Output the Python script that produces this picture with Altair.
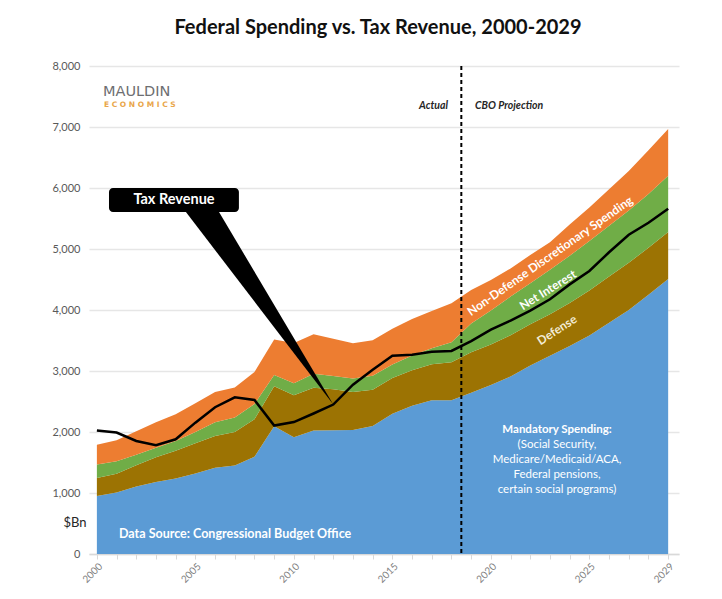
import altair as alt
import pandas as pd

# ---------------- data (US$ bn, CBO) ----------------
years = list(range(2000, 2030))
mandatory = [951, 1008, 1106, 1182, 1238, 1320, 1412, 1450, 1595, 2093,
             1913, 2026, 2030, 2032, 2097, 2300, 2429, 2519, 2522, 2644,
             2770, 2910, 3090, 3250, 3410, 3580, 3790, 4000, 4250, 4508]
defense = [295, 306, 349, 405, 454, 494, 521, 551, 612, 656,
           689, 699, 670, 625, 596, 584, 584, 590, 623, 665,
           665, 675, 675, 680, 705, 740, 760, 775, 770, 770]
net_interest = [223, 206, 171, 153, 160, 184, 227, 237, 253, 187,
                196, 230, 220, 221, 229, 223, 240, 263, 325, 470,
                555, 635, 675, 730, 775, 810, 830, 855, 880, 922]
nondefense = [320, 343, 385, 419, 441, 474, 495, 491, 522, 582,
              659, 647, 607, 576, 583, 585, 600, 610, 639, 550,
              500, 460, 460, 450, 510, 550, 600, 650, 720, 767]
revenue = [2025, 1991, 1853, 1782, 1880, 2153, 2406, 2568, 2524, 2105,
           2163, 2303, 2450, 2775, 3021, 3250, 3268, 3316, 3329, 3490,
           3678, 3827, 3989, 4176, 4420, 4640, 4946, 5233, 5430, 5660]

series_names = ["Mandatory Spending", "Defense", "Net Interest",
                "Non-Defense Discretionary Spending"]
series_colors = ["#5b9bd5", "#9c7303", "#70ad47", "#ed7d31"]
y_ticks = list(range(0, 8001, 1000))
x_label_years = [2000, 2005, 2010, 2015, 2020, 2025, 2029]
projection_start = 2018.5
callout_year = 2012

# ---------------- tables ----------------
rows = []
for i, yr in enumerate(years):
    base = 0
    for name, vals in zip(series_names, [mandatory, defense, net_interest, nondefense]):
        rows.append({"year": yr, "series": name, "lo": base, "hi": base + vals[i]})
        base += vals[i]
df = pd.DataFrame(rows)
rev = pd.DataFrame({"year": years, "revenue": revenue})

W, H = 590, 488
FONT = "Lato"
xs = alt.Scale(domain=[1999.6, 2029.55], nice=False, zero=False)
ys = alt.Scale(domain=[0, 8000], nice=False, zero=True)

x_label_expr = "indexof(" + str(x_label_years) + ", datum.value) >= 0 ? '' + datum.value : ''"
X_AX = alt.Axis(values=years, labelExpr=x_label_expr, grid=False,
                labelOverlap=False, labelAngle=315, labelFontSize=10,
                labelColor="#7f7f7f", labelFont=FONT, title=None,
                domainColor="#d9d9d9", domainWidth=1.5,
                tickColor="#d9d9d9", tickSize=5, labelPadding=2)
Y_AX = alt.Axis(values=y_ticks, labelExpr="format(datum.value, ',')",
                labelColor="#595959", labelOverlap=False, title=None,
                labelFontSize=11, labelFont=FONT, domain=False,
                ticks=False, gridColor="#e6e6e6", gridWidth=1.5,
                labelPadding=9)


def X(field):
    return alt.X(field, scale=xs, axis=X_AX, title=None)


def Y(field):
    return alt.Y(field, scale=ys, axis=Y_AX, title=None)


areas = alt.Chart(df).mark_area(opacity=1, interpolate="linear").encode(
    x=X("year:Q"),
    y=Y("hi:Q"),
    y2="lo:Q",
    color=alt.Color("series:N", scale=alt.Scale(domain=series_names, range=series_colors),
                    legend=None),
)

rev_line = alt.Chart(rev).mark_line(color="black", strokeWidth=2.5).encode(
    x=X("year:Q"), y=Y("revenue:Q"))

divider = alt.Chart(pd.DataFrame({"x": [projection_start]})).mark_rule(
    color="black", strokeWidth=2, strokeDash=[4, 3]).encode(
    x=X("x:Q"), y=alt.value(0), y2=alt.value(H))

# callout "Tax Revenue": box + wedge pointing at the revenue line
box_x0, box_x1, box_top, box_bot = 2000.615, 2007.21, 6000, 5607
tip_x = callout_year
tip_y = revenue[years.index(callout_year)]
wa, wb = 2004.52, 2006.2
t = (wb - wa) / (tip_x - wa)
y_ac = box_bot + t * (tip_y - box_bot)
wedge_df = pd.DataFrame({"x": [wa, wb, tip_x], "top": [box_bot, box_bot, tip_y],
                         "bot": [box_bot, y_ac, tip_y]})
wedge = alt.Chart(wedge_df).mark_area(color="black", opacity=1).encode(
    x=X("x:Q"), y=Y("top:Q"), y2="bot:Q")
box = alt.Chart(pd.DataFrame({"x0": [box_x0], "x1": [box_x1], "y0": [box_top], "y1": [box_bot]})
                ).mark_rect(color="black", cornerRadius=4).encode(
    x=X("x0:Q"), x2="x1:Q", y=Y("y0:Q"), y2="y1:Q")


def label(text, x, y, size=12, color="white", weight="bold", align="center",
          angle=0, style="normal", font=FONT, baseline="middle"):
    return alt.Chart(pd.DataFrame({"t": [text]})).mark_text(
        fontSize=size, color=color, fontWeight=weight, align=align, angle=angle,
        fontStyle=style, font=font, baseline=baseline).encode(
        text="t:N", x=alt.value(x), y=alt.value(y))


texts = [
    label("Federal Spending vs. Tax Revenue, 2000-2029", 289, -38, size=20,
          color="#111111"),
    label("MAULDIN", 14, 26, size=14.5, color="#6d6e71", weight="normal", align="left",
          font="DejaVu Sans"),
    label("E C O N O M I C S", 15, 38.5, size=7.5, color="#e9a64a", align="left",
          font="DejaVu Sans"),
    label("Actual", 359, 40, size=10.5, color="#262626", align="right", style="italic"),
    label("CBO Projection", 386, 40, size=10.5, color="#262626", align="left",
          style="italic"),
    label("Tax Revenue", 85, 134, size=14.5),
    label("Non-Defense Discretionary Spending", 461, 190, size=12, angle=325),
    label("Net Interest", 459, 224, size=12, angle=328),
    label("Defense", 468, 264, size=12, color="#f3ecd6", angle=327),
    label("Mandatory Spending:", 468, 364, size=11.5),
    label("(Social Security,", 468, 379, size=11.5, weight="normal"),
    label("Medicare/Medicaid/ACA,", 468, 394, size=11.5, weight="normal"),
    label("Federal pensions,", 468, 409, size=11.5, weight="normal"),
    label("certain social programs)", 468, 424, size=11.5, weight="normal"),
    label("Data Source: Congressional Budget Office", 30, 468, size=12.5, align="left"),
    label("$Bn", -14, 457, size=13, color="#262626", weight="normal"),
]

chart = alt.layer(areas, rev_line, divider, wedge, box, *texts).properties(
    width=W, height=H,
    autosize=alt.AutoSizeParams(type="none"),
    padding={"left": 81, "top": 58, "right": 35, "bottom": 37},
).configure(background="white", view=alt.ViewConfig(stroke=None))

chart.save("out.html", embed_options={"renderer": "svg", "actions": False})
